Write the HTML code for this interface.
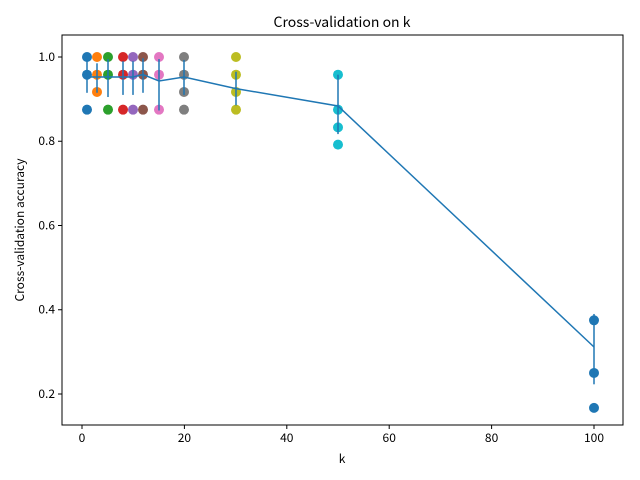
<!DOCTYPE html>
<html><head><meta charset="utf-8"><style>body{margin:0;background:#fff}svg{display:block}text{font-family:"WenQuanYi Zen Hei","Noto Sans CJK SC",sans-serif;font-size:12px;fill:#000}</style></head><body>
<svg width="640" height="480" xmlns="http://www.w3.org/2000/svg" id="s">
<rect width="640" height="480" fill="#fff"/>
<text x="342" y="27" text-anchor="middle" style="font-size:14px">Cross-validation on k</text>
<g id="pts"></g>
<polyline fill="none" stroke="#1f77b4" stroke-width="1.5" points="87,77 97,77 108,77 123,77 133,77 143,74.5 159,81 184,77 236,88.6 338,106 594,347"/>
<g id="bars" stroke="#1f77b4" stroke-width="1.5"></g>
<rect x="62" y="35" width="561" height="390" fill="none" stroke="#000" stroke-width="1"/>
<g stroke="#000"><line x1="82" y1="425" x2="82" y2="429"/><line x1="184.4" y1="425" x2="184.4" y2="429"/><line x1="286.8" y1="425" x2="286.8" y2="429"/><line x1="389.2" y1="425" x2="389.2" y2="429"/><line x1="491.6" y1="425" x2="491.6" y2="429"/><line x1="594" y1="425" x2="594" y2="429"/>
<line x1="58" y1="57" x2="62" y2="57"/><line x1="58" y1="141.25" x2="62" y2="141.25"/><line x1="58" y1="225.5" x2="62" y2="225.5"/><line x1="58" y1="309.75" x2="62" y2="309.75"/><line x1="58" y1="394" x2="62" y2="394"/></g>
<g text-anchor="middle"><text x="82" y="442">0</text><text x="184.4" y="442">20</text><text x="286.8" y="442">40</text><text x="389.2" y="442">60</text><text x="491.6" y="442">80</text><text x="594" y="442">100</text><text x="342" y="463">k</text></g>
<g text-anchor="end"><text x="55" y="61">1.0</text><text x="55" y="145">0.8</text><text x="55" y="229.5">0.6</text><text x="55" y="313.5">0.4</text><text x="55" y="398">0.2</text></g>
<text transform="translate(24,230) rotate(-90)" text-anchor="middle">Cross-validation accuracy</text>
</svg>
<script>
var C=['#1f77b4','#ff7f0e','#2ca02c','#d62728','#9467bd','#8c564b','#e377c2','#7f7f7f','#bcbd22','#17becf','#1f77b4'];
var D=[[87,[1,.958,.875],.99,.915],[97,[1,.958,.917],.985,.915],[108,[1,.958,.875],.995,.905],[123,[1,.958,.875],.99,.91],[133,[1,.958,.875],.99,.91],[143,[1,.958,.875],.997,.915],[159,[1,.958,.875],.995,.873],[184,[1,.958,.917,.875],.993,.91],[236,[1,.958,.917,.875],.965,.885],[338,[.958,.875,.833,.792],.958,.817],[594,[.375,.25,.167],.39,.223]];
var y=v=>57+(1-v)*421.25,p='',b='';
D.forEach((d,i)=>{d[1].forEach(v=>p+='<circle cx="'+d[0]+'" cy="'+y(v)+'" r="5" fill="'+C[i]+'"/>');b+='<line x1="'+d[0]+'" x2="'+d[0]+'" y1="'+y(d[2])+'" y2="'+y(d[3])+'"/>';});
document.getElementById('pts').innerHTML=p;document.getElementById('bars').innerHTML=b;
</script>
</body></html>
